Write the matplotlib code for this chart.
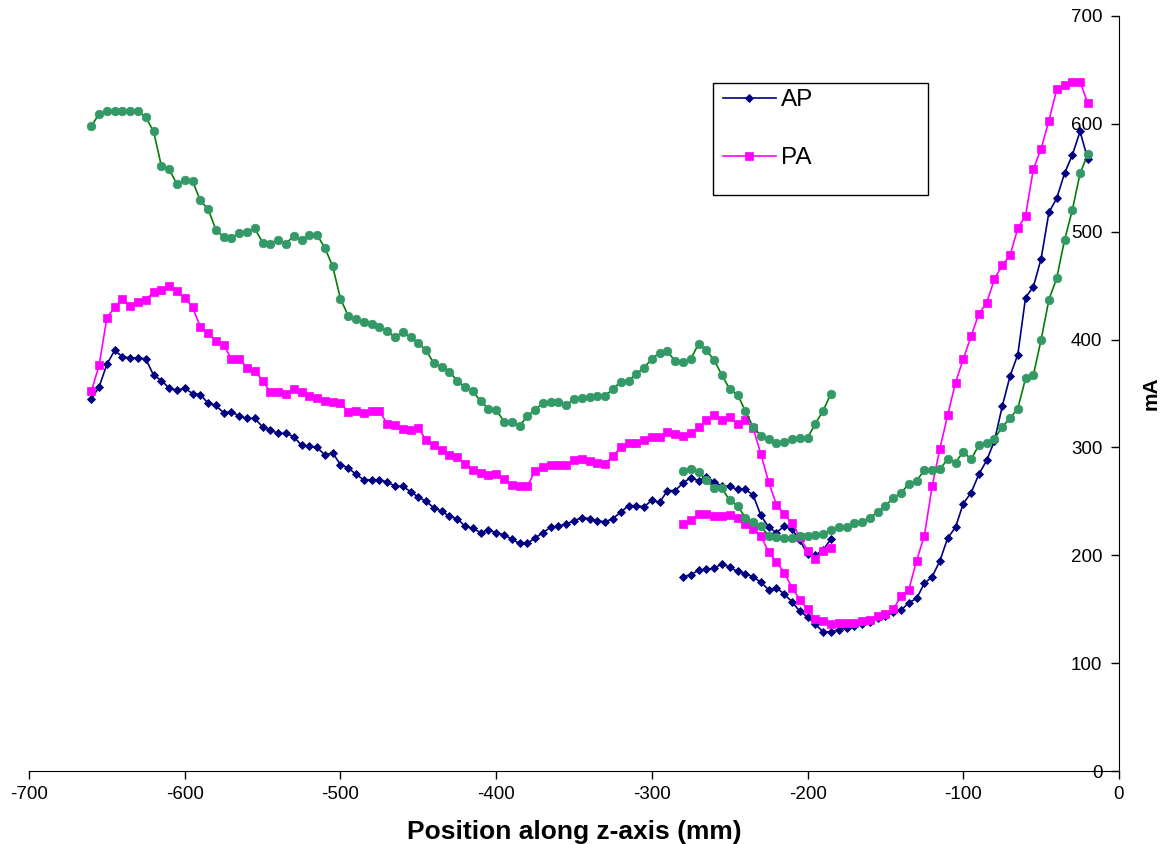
import matplotlib
matplotlib.use("Agg")
import matplotlib.pyplot as plt
import numpy as np
from matplotlib.patches import Rectangle

plt.rcParams['font.family'] = ['Liberation Sans', 'DejaVu Sans']
plt.rcParams['axes.unicode_minus'] = False

# first scan: -660 .. -185 mm, second scan: -280 .. -20 mm (5 mm steps)
z1 = np.arange(-660, -184, 5)
z2 = np.arange(-280, -19, 5)

ap1 = [345, 356, 377, 390, 384, 383, 383, 382, 367, 362,
       355, 353, 355, 350, 349, 341, 339, 332, 333, 329,
       327, 327, 319, 316, 313, 313, 310, 302, 301, 300,
       293, 295, 284, 281, 275, 270, 270, 270, 268, 264,
       264, 259, 254, 250, 244, 241, 236, 234, 227, 225,
       221, 223, 221, 219, 215, 211, 211, 216, 221, 226,
       227, 229, 232, 235, 234, 232, 231, 234, 240, 246,
       246, 245, 251, 249, 260, 260, 267, 272, 269, 273,
       268, 264, 264, 261, 261, 256, 237, 226, 221, 227,
       224, 214, 201, 200, 205, 215]
pa1 = [352, 376, 420, 430, 438, 431, 435, 437, 444, 446,
       450, 445, 439, 430, 412, 406, 399, 395, 382, 382,
       374, 371, 362, 351, 351, 350, 354, 351, 348, 346,
       343, 342, 341, 333, 334, 332, 334, 334, 322, 321,
       317, 316, 318, 307, 302, 298, 293, 291, 285, 279,
       276, 274, 275, 271, 265, 264, 264, 278, 282, 284,
       284, 284, 288, 289, 287, 286, 285, 292, 300, 304,
       304, 307, 310, 310, 314, 312, 311, 313, 319, 325,
       330, 325, 328, 322, 325, 318, 294, 268, 247, 238,
       230, 217, 204, 197, 204, 207]
gr1 = [598, 609, 612, 612, 612, 612, 612, 606, 593, 561,
       558, 544, 548, 547, 529, 521, 502, 495, 494, 499,
       500, 503, 490, 489, 492, 489, 496, 492, 497, 497,
       485, 468, 438, 422, 419, 416, 414, 412, 408, 402,
       407, 402, 397, 390, 378, 375, 370, 362, 356, 352,
       343, 336, 335, 324, 324, 320, 329, 335, 341, 342,
       342, 339, 345, 346, 347, 348, 348, 354, 361, 362,
       368, 374, 382, 388, 389, 380, 379, 382, 396, 390,
       381, 367, 354, 349, 334, 319, 311, 308, 304, 305,
       308, 309, 309, 322, 334, 350]

ap2 = [180, 182, 186, 187, 188, 192, 189, 185, 183, 180,
       175, 168, 170, 164, 157, 148, 143, 136, 129, 129,
       131, 133, 134, 136, 138, 142, 144, 147, 149, 156,
       160, 174, 180, 195, 216, 226, 248, 258, 275, 288,
       306, 338, 366, 386, 439, 449, 475, 518, 531, 554,
       571, 593, 567]
pa2 = [229, 233, 238, 238, 236, 236, 237, 235, 229, 224,
       218, 203, 194, 184, 170, 159, 150, 141, 139, 136,
       137, 137, 137, 139, 140, 144, 146, 150, 162, 168,
       195, 218, 264, 299, 330, 360, 382, 403, 424, 434,
       456, 469, 478, 503, 515, 558, 577, 603, 632, 636,
       639, 639, 619]
gr2 = [278, 280, 277, 270, 262, 262, 251, 246, 235, 231,
       227, 218, 217, 216, 216, 218, 218, 219, 220, 223,
       226, 226, 230, 231, 235, 240, 246, 253, 258, 266,
       269, 279, 279, 280, 289, 286, 296, 289, 302, 304,
       308, 319, 327, 336, 364, 367, 400, 437, 457, 492,
       520, 554, 572]

ap_style = dict(color='#000080', marker='D', ms=4.2, mew=0.6, lw=1.2)
pa_style = dict(color='#FF00FF', marker='s', ms=5.6, mew=0.5, lw=1.2)
gr_style = dict(color='#008000', marker='o', ms=6.2, mew=0.5, lw=1.2,
                mfc='#339966', mec='#339966')

fig = plt.figure(figsize=(11.61, 8.44), dpi=100)
ax = fig.add_axes([29/1161, 73/844, 1090/1161, 755/844])

ax.plot(z1, ap1, label='AP', **ap_style)
ax.plot(z1, pa1, label='PA', **pa_style)
ax.plot(z1, gr1, **gr_style)
ax.plot(z2, ap2, **ap_style)
ax.plot(z2, pa2, **pa_style)
ax.plot(z2, gr2, **gr_style)

ax.set_xlim(-700, 0)
ax.set_ylim(0, 700)
ax.set_xticks(np.arange(-700, 1, 100))
ax.set_yticks(np.arange(0, 701, 100))

ax.spines['top'].set_visible(False)
ax.spines['right'].set_visible(False)
ax.spines['left'].set_position(('data', 0))
ax.tick_params(axis='both', labelsize=13.5, length=6, width=1, direction='out')
ax.tick_params(axis='y', pad=6)
ax.tick_params(axis='x', pad=5)

ax.set_xlabel('Position along z-axis (mm)', fontsize=19, fontweight='bold', labelpad=12)
ax.yaxis.set_label_position('right')
ax.set_ylabel('mA', fontsize=15, fontweight='bold', labelpad=16)

leg = ax.legend(loc='center left', bbox_to_anchor=(0.6364, 0.850), frameon=False,
                fontsize=17.5, handlelength=2.2, handletextpad=0.2,
                labelspacing=1.48, borderpad=0, borderaxespad=0)
ax.add_patch(Rectangle((0.6275, 0.763), 0.1973, 0.148, transform=ax.transAxes,
                       fill=False, edgecolor='black', lw=1, zorder=5))

fig.savefig('out.png', dpi=100)
